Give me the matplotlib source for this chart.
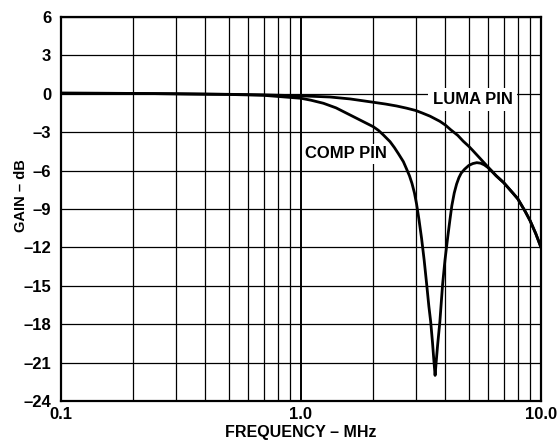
import numpy as np
import matplotlib
matplotlib.use("Agg")
from matplotlib import pyplot as plt

plt.rcParams['font.family'] = ['Liberation Sans', 'DejaVu Sans']
plt.rcParams['font.weight'] = 'bold'

# ganho do pino LUMA (MHz, dB)
luma_freq = [0.1, 0.2, 0.3, 0.5, 0.7, 1.0, 1.32, 1.6, 2.0, 2.25, 2.5, 2.75, 3.0, 3.2, 3.45, 3.79,
             4.0, 4.2, 4.5, 4.74, 5.0, 5.18, 5.57, 6.0, 6.5, 7.0, 7.67, 8.0, 8.6, 9.0, 9.5, 10.0]
luma_gain = [0.05, 0.03, 0.0, -0.04, -0.08, -0.16, -0.25, -0.4, -0.66, -0.8, -0.95, -1.12, -1.3, -1.5, -1.75, -2.15,
             -2.45, -2.8, -3.25, -3.7, -4.1, -4.4, -5.04, -5.7, -6.4, -6.95, -7.8, -8.2, -9.2, -9.9, -10.9, -12.0]

# ganho do pino COMP (MHz, dB)
comp_freq = [0.1, 0.2, 0.3, 0.5, 0.7, 1.0, 1.1, 1.24, 1.4, 1.55, 1.7, 1.85, 2.0, 2.1, 2.2, 2.35,
             2.45, 2.55, 2.67, 2.75, 2.83, 2.9, 2.97, 3.03, 3.1, 3.18, 3.26, 3.34, 3.41, 3.47,
             3.53, 3.58, 3.62, 3.66, 3.71, 3.79, 3.89, 3.98, 4.08, 4.17, 4.25, 4.35, 4.45, 4.55,
             4.65, 4.8, 5.0, 5.2, 5.4, 5.6, 5.8, 6.0, 6.2, 6.5, 7.0, 7.67, 8.0, 8.6, 9.0, 9.5, 10.0]
comp_gain = [0.05, 0.03, 0.0, -0.05, -0.12, -0.35, -0.5, -0.74, -1.1, -1.52, -1.9, -2.25, -2.57, -2.85, -3.2, -3.74,
             -4.2, -4.7, -5.3, -5.85, -6.4, -7.0, -7.75, -8.6, -9.8, -11.3, -13.0, -14.9, -16.6, -17.8,
             -19.4, -20.9, -22.0, -20.9, -19.6, -17.8, -14.9, -13.0, -11.3, -9.9, -8.75, -7.75, -7.05, -6.55,
             -6.2, -5.9, -5.6, -5.45, -5.38, -5.42, -5.55, -5.75, -6.0, -6.4, -6.95, -7.8, -8.2, -9.2, -9.9, -10.9, -12.0]

yticks = [6, 3, 0, -3, -6, -9, -12, -15, -18, -21, -24]
xticks = [0.1, 1.0, 10.0]
xtick_labels = ['0.1', '1.0', '10.0']

fig = plt.figure(figsize=(5.58, 4.40), dpi=100)
ax = fig.add_axes([61/558, 1 - 401/440, 480/558, 384/440])

ax.set_xscale('log')
ax.set_xlim(0.1, 10.0)
ax.set_ylim(-24, 6)

# grade
for f in list(np.arange(2, 10) * 0.1) + list(np.arange(2, 10) * 1.0):
    ax.axvline(f, color='black', lw=0.9, zorder=1)
ax.axvline(1.0, color='black', lw=1.4, zorder=1)
for y in yticks:
    ax.axhline(y, color='black', lw=0.9, zorder=1)

ax.plot(luma_freq, luma_gain, color='black', lw=2.0, zorder=3, solid_joinstyle='round')
ax.plot(comp_freq, comp_gain, color='black', lw=2.0, zorder=3, solid_joinstyle='round')

ax.text(5.18, -0.46, 'LUMA PIN', fontsize=12, fontweight='bold', ha='center', va='center', zorder=4,
        bbox=dict(boxstyle='square,pad=0.25', fc='white', ec='none'))
ax.text(1.54, -4.7, 'COMP PIN', fontsize=12, fontweight='bold', ha='center', va='center', zorder=4,
        bbox=dict(boxstyle='square,pad=0.15', fc='white', ec='none'))

ax.set_xticks(xticks)
ax.set_xticklabels(xtick_labels)
ax.xaxis.set_minor_locator(matplotlib.ticker.NullLocator())
ax.set_yticks(yticks)
ax.set_yticklabels([str(v).replace('-', '\u2013') for v in yticks])
ax.tick_params(axis='both', length=0, labelsize=12)
ax.tick_params(axis='x', pad=4)
ax.tick_params(axis='y', pad=7)

for s in ax.spines.values():
    s.set_linewidth(1.6)
    s.set_zorder(5)

ax.set_xlabel('FREQUENCY \u2013 MHz', fontsize=11.5, fontweight='bold')
ax.set_ylabel('GAIN \u2013 dB', fontsize=10.5, fontweight='bold')
ax.xaxis.set_label_coords(0.5, -0.062)
ax.yaxis.set_label_coords(-0.068, 0.534)

fig.savefig('out.png', dpi=100)
